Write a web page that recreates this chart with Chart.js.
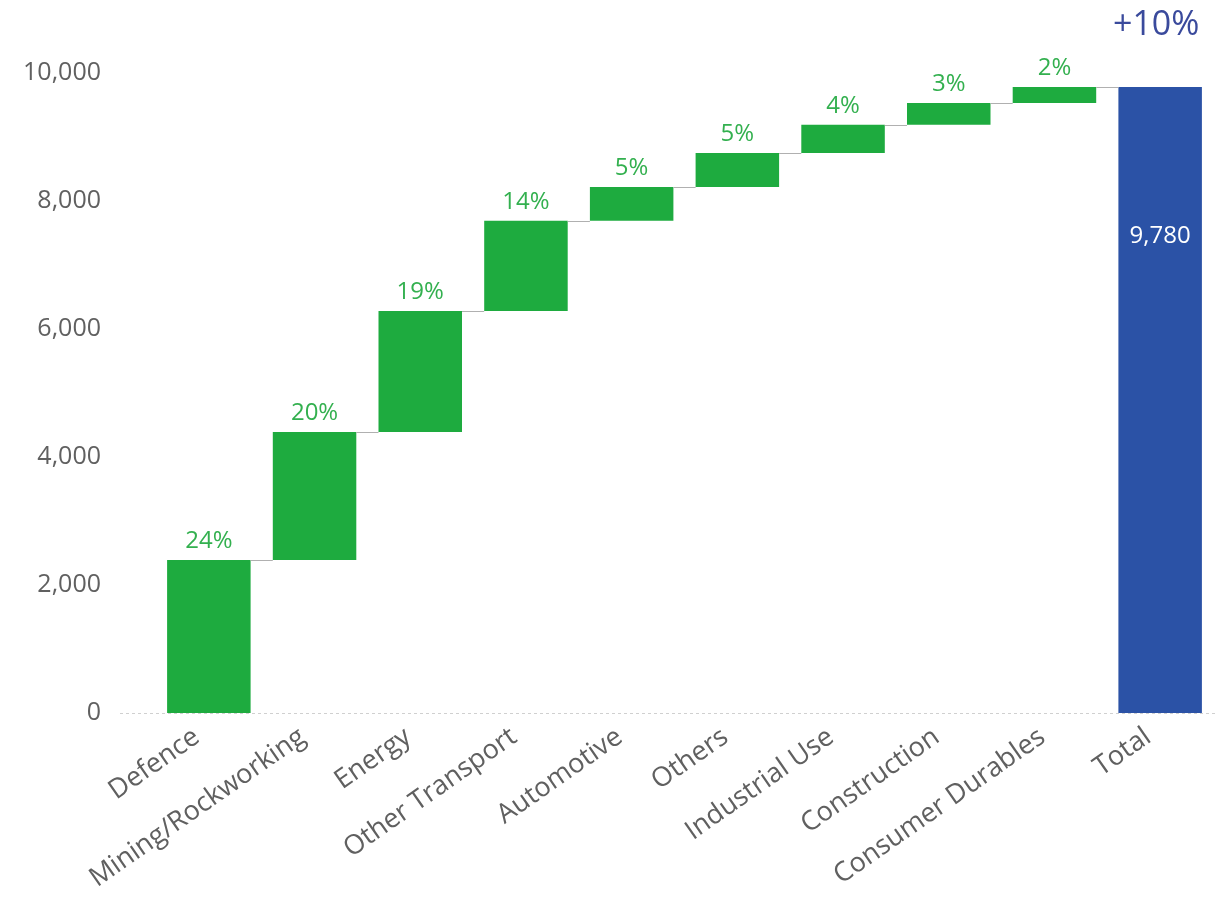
<!DOCTYPE html>
<html>
<head>
<meta charset="utf-8">
<script src="https://cdn.jsdelivr.net/npm/chart.js@4.4.0/dist/chart.umd.min.js"></script>
<style>
  html, body { margin: 0; padding: 0; background: #fff; }
  #wrap { width: 1227px; height: 897px; }
</style>
</head>
<body>
<div id="wrap"><canvas id="chart"></canvas></div>
<script>
const categories = ['Defence', 'Mining/Rockworking', 'Energy', 'Other Transport', 'Automotive',
  'Others', 'Industrial Use', 'Construction', 'Consumer Durables', 'Total'];
const increments = [2390, 2000, 1890, 1410, 530, 530, 440, 340, 250];
const shareLabels = ['24%', '20%', '19%', '14%', '5%', '5%', '4%', '3%', '2%'];
const totalValue = 9780;
const growthLabel = '+10%';
const yTicks = [0, 2000, 4000, 6000, 8000, 10000];

// build floating bars [start, end] for the waterfall
let running = 0;
const bars = increments.map(v => {
  const b = [running, running + v];
  running += v;
  return b;
});
bars.push([0, totalValue]);

const colors = categories.map((c, i) => i === categories.length - 1 ? '#2b52a6' : '#1eab3f');
const FONT = '"Open Sans", "Noto Sans", sans-serif';

const waterfallPlugin = {
  id: 'waterfall',
  beforeDatasetsDraw(chart) {
    const { ctx, scales: { y } } = chart;
    const y0 = Math.round(y.getPixelForValue(0)) + 0.5;
    ctx.save();
    ctx.strokeStyle = '#d0d0d0';
    ctx.lineWidth = 1;
    ctx.setLineDash([3, 3]);
    ctx.beginPath();
    ctx.moveTo(120, y0);
    ctx.lineTo(1215, y0);
    ctx.stroke();
    ctx.restore();
  },
  afterDatasetsDraw(chart) {
    const { ctx, scales: { y } } = chart;
    const meta = chart.getDatasetMeta(0);
    ctx.save();
    // connector lines
    ctx.strokeStyle = '#b0b0b0';
    ctx.lineWidth = 1;
    for (let i = 0; i < meta.data.length - 1; i++) {
      const a = meta.data[i], b = meta.data[i + 1];
      const level = bars[i][1];
      const py = Math.round(y.getPixelForValue(level)) + 0.5;
      ctx.beginPath();
      ctx.moveTo(a.x + a.width / 2, py);
      ctx.lineTo(b.x - b.width / 2, py);
      ctx.stroke();
    }
    // share labels
    ctx.font = '24px ' + FONT;
    ctx.fillStyle = '#33b04f';
    ctx.textAlign = 'center';
    ctx.textBaseline = 'bottom';
    shareLabels.forEach((t, i) => {
      const el = meta.data[i];
      ctx.fillText(t, el.x, y.getPixelForValue(bars[i][1]) - 7);
    });
    // total label
    const last = meta.data[meta.data.length - 1];
    ctx.fillStyle = '#ffffff';
    ctx.textBaseline = 'middle';
    ctx.fillText(totalValue.toLocaleString('en-US'), last.x, y.getPixelForValue(totalValue) + 149);
    // growth label
    ctx.font = '34px ' + FONT;
    ctx.fillStyle = '#3a4a9c';
    ctx.fillText(growthLabel, last.x - 4, 25);
    ctx.restore();
  }
};

new Chart(document.getElementById('chart'), {
  type: 'bar',
  data: {
    labels: categories,
    datasets: [{
      data: bars,
      backgroundColor: colors,
      borderWidth: 0,
      barPercentage: 0.79,
      categoryPercentage: 1
    }]
  },
  options: {
    responsive: true,
    maintainAspectRatio: false,
    animation: false,
    layout: { padding: { top: 73, right: 14, left: 0, bottom: 0 } },
    plugins: { legend: { display: false }, tooltip: { enabled: false } },
    scales: {
      x: {
        grid: { display: false },
        border: { display: false },
        ticks: {
          minRotation: 35, maxRotation: 35,
          color: '#606060',
          font: { family: FONT, size: 27 },
          padding: 0,
          labelOffset: -12
        },
        afterFit(scale) { scale.height = 184; }
      },
      y: {
        min: 0, max: 10000,
        afterBuildTicks(scale) { scale.ticks = yTicks.map(v => ({ value: v })); },
        grid: { display: false },
        border: { display: false },
        ticks: {
          color: '#606060',
          font: { family: FONT, size: 25 },
          padding: 47,
          callback: v => v.toLocaleString('en-US')
        },
        afterFit(scale) { scale.width = 156; }
      }
    }
  },
  plugins: [waterfallPlugin]
});
</script>
</body>
</html>
